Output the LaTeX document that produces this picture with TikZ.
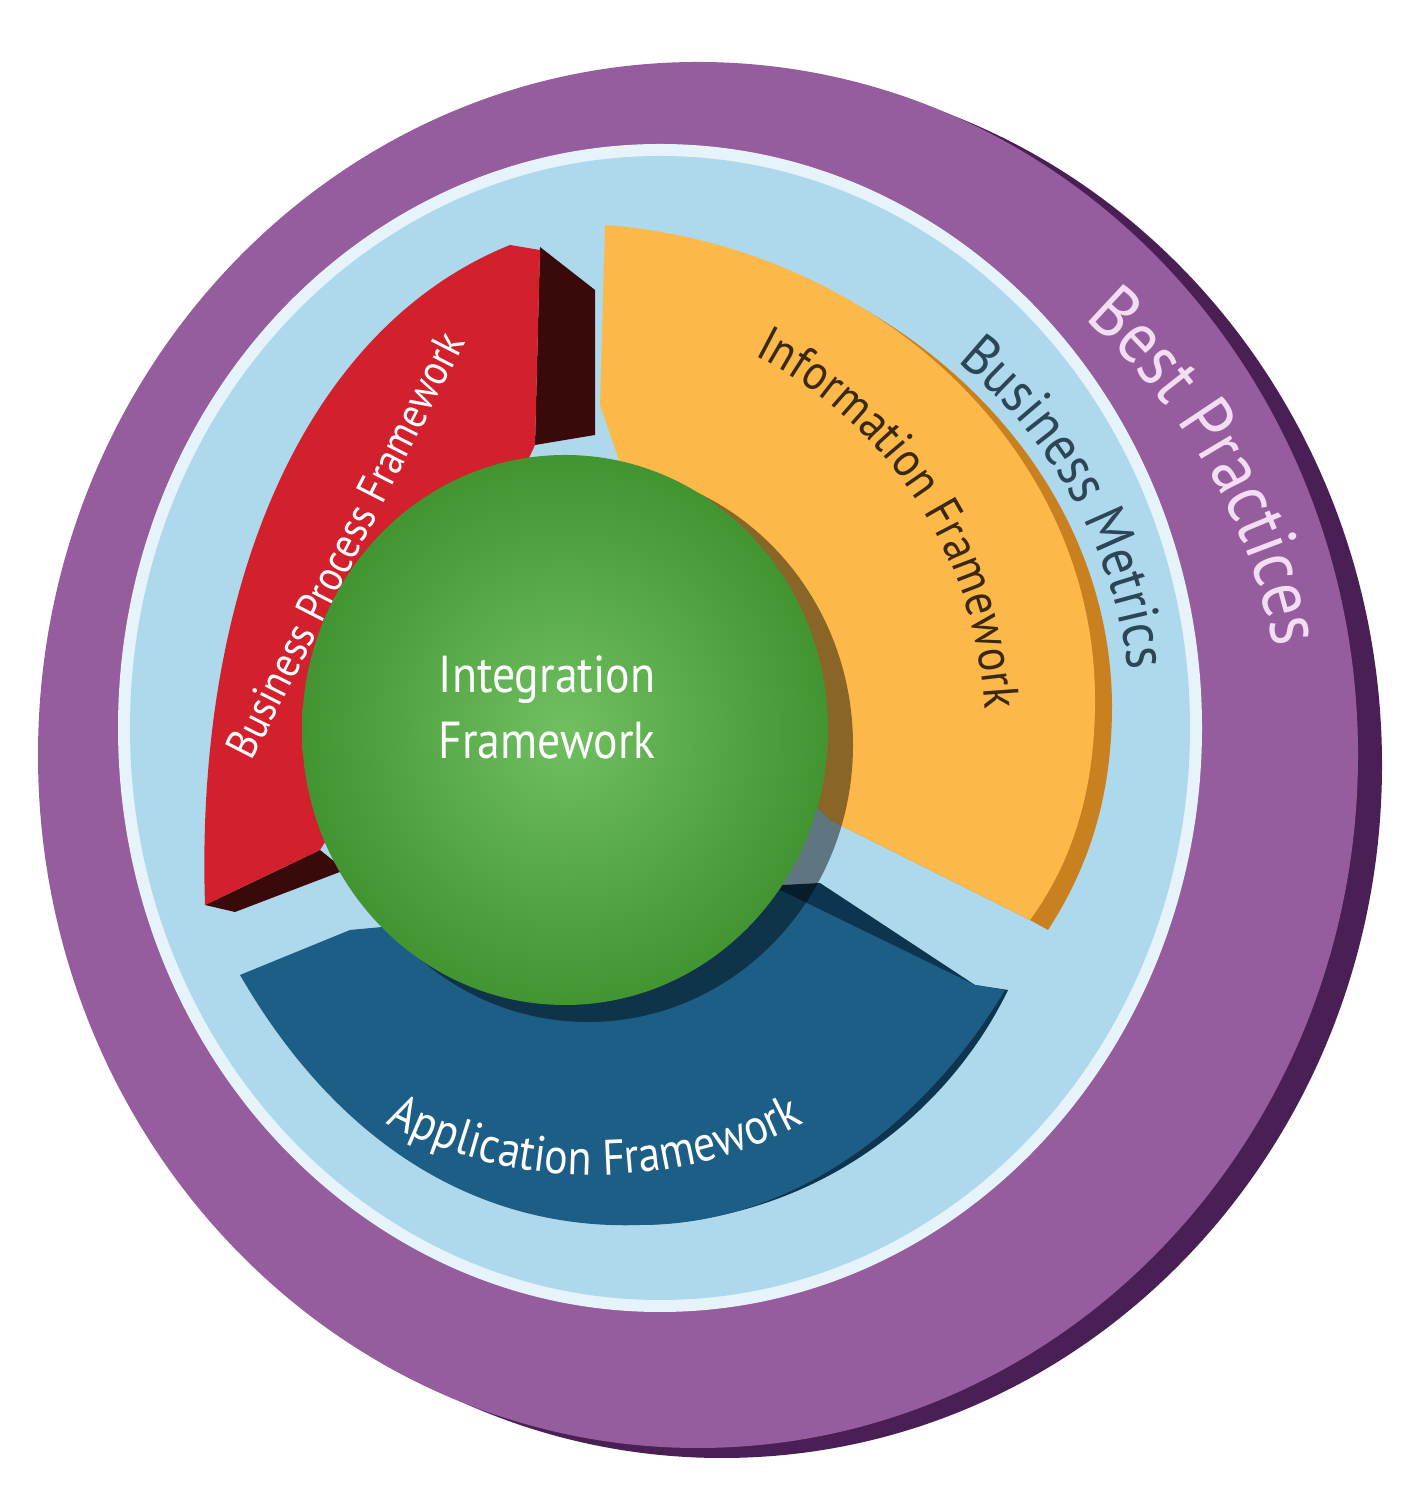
\documentclass[tikz,border=0pt]{standalone}
\usepackage{fontspec}
\setmainfont{PT Sans}[FakeStretch=0.88]
\usetikzlibrary{decorations.text}
\definecolor{purp}{HTML}{955C9E}
\definecolor{purpd}{HTML}{4A1F55}
\definecolor{lblue}{HTML}{AED8EC}
\definecolor{rimw}{HTML}{E6F3FA}
\definecolor{redf}{HTML}{D2202C}
\definecolor{redd}{HTML}{3A0A0A}
\definecolor{yel}{HTML}{FDB84A}
\definecolor{yeld}{HTML}{C9801E}
\definecolor{bluef}{HTML}{1D5E86}
\definecolor{blued}{HTML}{0E3550}
\definecolor{grn}{HTML}{4DAF3A}
\definecolor{bptext}{HTML}{F3DDF3}
\definecolor{bmtext}{HTML}{2B4656}
\definecolor{iftext}{HTML}{3A2810}
\tikzset{
 arctext/.style={decorate,decoration={text along path,text align=center,text={#1}}},
}
\begin{document}
\begin{tikzpicture}[x=1pt,y=1pt]
\useasboundingbox (0,0) rectangle (1410,1495);
% outer ring
\fill[purpd] (722,730) ellipse [x radius=660,y radius=693];
\fill[purp] (698,740) ellipse [x radius=660,y radius=693];
% light blue ring
\fill[rimw] (660,767) ellipse [x radius=542,y radius=584];
\fill[lblue] (660,767) ellipse [x radius=530,y radius=572];
% red segment
\fill[redd] (540,1248) -- (595,1205) -- (595,1060) -- (535,1050) -- cycle;
\fill[redd] (205,590) -- (235,583) -- (345,625) -- (320,645) -- cycle;
\fill[redf] (510,1250) .. controls (300,1165) and (195,900) .. (205,590) -- (320,645) -- (420,800) -- (535,1050) -- (540,1245) -- cycle;
% yellow segment
\fill[yeld] (620,1262) .. controls (885,1240) and (1110,1040) .. (1112,790) .. controls (1112,700) and (1090,630) .. (1048,565) -- (1030,575) -- (830,675) -- cycle;
\fill[yel] (605,1270) .. controls (870,1250) and (1095,1050) .. (1095,795) .. controls (1095,700) and (1070,630) .. (1030,575) -- (830,675) -- (700,800) -- (600,1090) -- cycle;
% blue segment
\fill[blued] (640,270) .. controls (820,275) and (950,385) .. (1008,505) -- (975,510) -- (820,612) -- (600,600) -- cycle;
\fill[bluef] (240,520) .. controls (350,330) and (500,265) .. (640,270) .. controls (800,270) and (930,380) .. (1005,505) -- (975,510) -- (780,605) -- (350,565) -- cycle;
% green
\fill[black,opacity=0.45] (588,750) ellipse [x radius=265,y radius=277];
\shade[inner color=grn!80!white,outer color=grn!85!black] (565,765) ellipse [x radius=263,y radius=275];
\node[text=white,font=\fontsize{52}{66}\selectfont,align=center] (integ) at (547,788) {Integration\\Framework};
% texts
\path[arctext={|\fontsize{74}{74}\selectfont\color{bptext}|Best Practices}] (700,735) ++(54:585) arc[start angle=54,end angle=6,radius=585];
\path[arctext={|\fontsize{58}{58}\selectfont\color{bmtext}|Business Metrics}] (660,767) ++(62:472) arc[start angle=62,end angle=-4,radius=472];
\path[arctext={|\fontsize{50}{50}\selectfont\color{iftext}|Information Framework}] (565,765) ++(72:420) arc[start angle=72,end angle=-6,radius=420];
\path[arctext={|\fontsize{50}{50}\selectfont\color{white}|Application Framework}] (595,765) ++(225:445) arc[start angle=225,end angle=315,radius=445];
\node[text=white,font=\fontsize{44}{44}\selectfont,rotate=63] (bpf) at (345,950) {Business Process Framework};
\end{tikzpicture}
\end{document}
